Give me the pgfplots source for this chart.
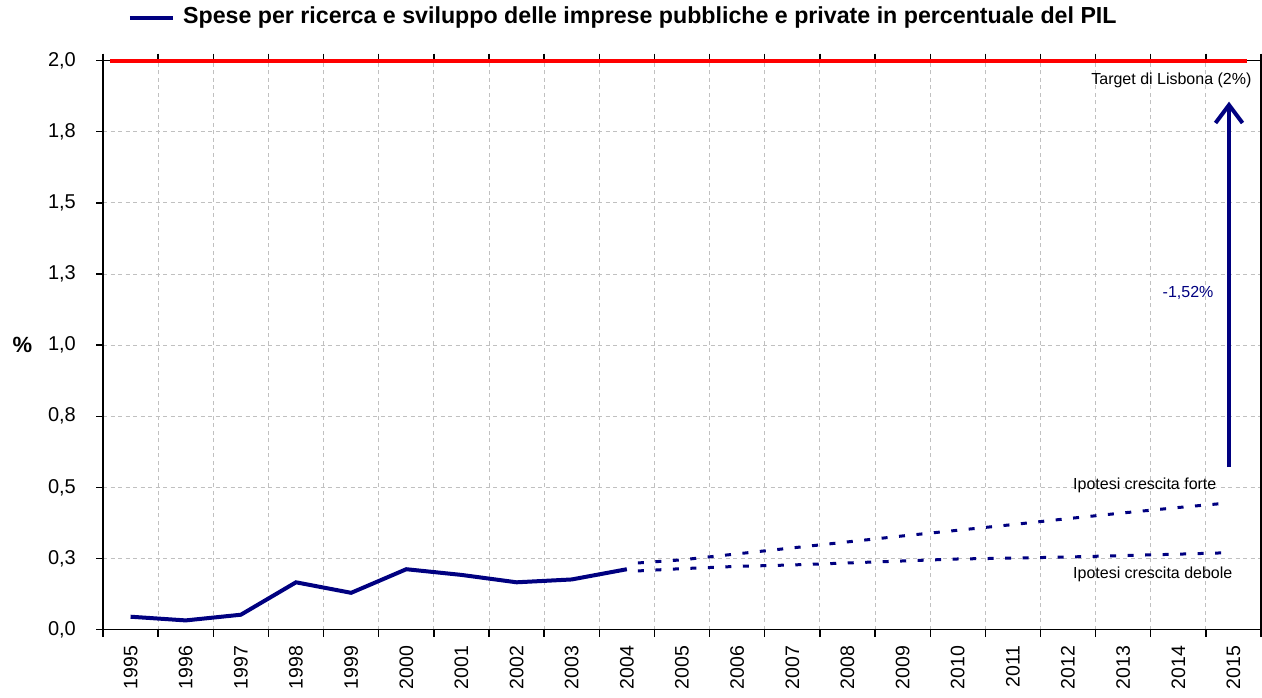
\documentclass[border=0pt]{standalone}
\usepackage{pgfplots}
\pgfplotsset{compat=1.18}
\usepackage{pgfplotstable}
\usepackage{fontspec}
\setmainfont{Liberation Sans}
\usetikzlibrary{arrows.meta}
\definecolor{navyline}{RGB}{0,0,128}
\definecolor{gridgray}{RGB}{192,192,192}

% R&S delle imprese, % del PIL
\pgfplotstableread{
year val
1995 0.045
1996 0.032
1997 0.052
1998 0.166
1999 0.129
2000 0.212
2001 0.192
2002 0.166
2003 0.176
2004 0.212
}\rdtable

% ipotesi crescita forte
\pgfplotstableread{
year val
2004.2 0.234
2005 0.245
2006 0.266
2007 0.287
2008 0.308
2009 0.329
2010 0.349
2011 0.369
2012 0.390
2013 0.410
2014 0.429
2014.85 0.444
}\forte

% ipotesi crescita debole
\pgfplotstableread{
year val
2004.2 0.206
2005 0.214
2006 0.222
2007 0.227
2008 0.234
2009 0.241
2010 0.248
2011 0.251
2012 0.255
2013 0.260
2014 0.265
2014.9 0.270
}\debole

\begin{document}
\begin{tikzpicture}
\begin{axis}[
    scale only axis,
    width=1158bp, height=568.8bp,
    xmin=1994.5, xmax=2015.5,
    ymin=0, ymax=2,
    xtick={1994.5,1995.5,...,2015.5},
    xticklabels={},
    extra x ticks={1995,1996,...,2015},
    extra x tick labels={1995,1996,1997,1998,1999,2000,2001,2002,2003,2004,2005,2006,2007,2008,2009,2010,2011,2012,2013,2014,2015},
    extra x tick style={grid=none, tick style={draw=none}},
    xticklabel shift=9bp,
    xticklabel style={rotate=90, anchor=east, inner sep=0pt,
        font=\fontsize{19.5bp}{19.5bp}\selectfont},
    ytick={0,0.25,...,2},
    yticklabels={{0,0},{0,3},{0,5},{0,8},{1,0},{1,3},{1,5},{1,8},{2,0}},
    yticklabel shift=20bp,
    yticklabel style={inner sep=0pt, font=\fontsize{20bp}{20bp}\selectfont},
    grid=major,
    grid style={gridgray, dash pattern=on 4bp off 3.5bp, line width=1bp},
    tick align=outside,
    major tick length=7bp,
    tick style={black, line width=1.3bp},
    axis line style={line width=1.3bp},
    ylabel={\%},
    ylabel style={rotate=-90, font=\bfseries\fontsize{22bp}{22bp}\selectfont,
        at={(axis description cs:-0.0695,0.5)}, anchor=center},
    clip=false,
]
\addplot[red, line width=4bp] coordinates {(1994.63,2) (2015.24,2)};
\addplot[navyline, line width=4bp] table[x=year, y=val] {\rdtable};
\addplot[navyline, line width=3bp, dash pattern=on 6bp off 11.5bp] table[x=year, y=val] {\forte};
\addplot[navyline, line width=3bp, dash pattern=on 6bp off 11.5bp] table[x=year, y=val] {\debole};

\draw[navyline, line width=4bp, -{Straight Barb[length=18bp, width=27bp]}]
    (axis cs:2014.92,0.571) -- (axis cs:2014.92,1.856);

\node[anchor=east, inner sep=0pt, font=\fontsize{16bp}{16bp}\selectfont]
    at (axis cs:2015.33,1.932) {Target di Lisbona (2\%)};
\node[anchor=east, inner sep=0pt, text=navyline, font=\fontsize{16bp}{16bp}\selectfont]
    at (axis cs:2014.64,1.184) {-1,52\%};
\node[anchor=west, inner sep=0pt, font=\fontsize{16bp}{16bp}\selectfont]
    at (axis cs:2012.09,0.506) {Ipotesi crescita forte};
\node[anchor=west, inner sep=0pt, font=\fontsize{16bp}{16bp}\selectfont]
    at (axis cs:2012.09,0.195) {Ipotesi crescita debole};

% legenda in alto
\draw[navyline, line width=4bp]
    (axis description cs:0.0233,1.0751) -- (axis description cs:0.0605,1.0751);
\node[anchor=west, inner sep=0pt, font=\bfseries\fontsize{23.2bp}{23.2bp}\selectfont]
    at (axis description cs:0.069,1.0751)
    {Spese per ricerca e sviluppo delle imprese pubbliche e private in percentuale del PIL};
\end{axis}
\pgfresetboundingbox
\path[use as bounding box]
    ([xshift=-103bp, yshift=-67.5bp]current axis.south west)
    rectangle ([xshift=1bp, yshift=60.7bp]current axis.north east);
\end{tikzpicture}
\end{document}
